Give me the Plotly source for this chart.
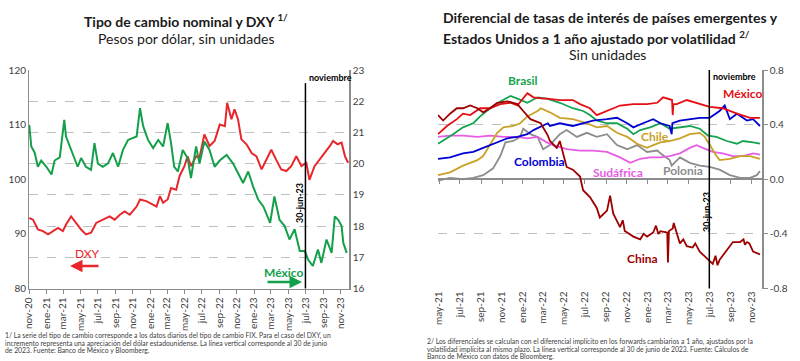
import plotly.graph_objects as go

# ---------------- Left chart data ----------------
dxy_dates = ["2020-11-02","2020-11-15","2020-12-02","2020-12-20","2021-01-07","2021-01-24","2021-02-11","2021-02-28","2021-03-11","2021-03-29",
             "2021-04-16","2021-05-03","2021-05-20","2021-06-07","2021-06-25","2021-07-18","2021-08-11","2021-08-29","2021-09-16","2021-10-03",
             "2021-10-21","2021-11-14","2021-11-26","2021-12-18","2022-01-11","2022-01-23","2022-02-04","2022-02-15","2022-03-03","2022-03-15",
             "2022-04-02","2022-04-14","2022-05-01","2022-05-12","2022-05-24","2022-06-11","2022-06-23","2022-07-10","2022-07-28","2022-08-15",
             "2022-09-02","2022-09-20","2022-09-28","2022-10-13","2022-10-24","2022-11-05","2022-11-17","2022-12-05","2022-12-23","2023-01-09",
             "2023-01-27","2023-02-14","2023-03-02","2023-03-19","2023-04-06","2023-04-24","2023-05-11","2023-05-29","2023-06-16","2023-07-03",
             "2023-07-14","2023-08-01","2023-08-19","2023-09-06","2023-09-24","2023-10-05","2023-10-21","2023-11-04","2023-11-16","2023-11-27"]
dxy_vals = [92.9,92.6,90.8,90.5,89.9,90.5,91.1,90.5,91.7,93.2,
            92.0,90.8,89.9,90.2,92.0,92.6,93.2,92.6,93.5,94.1,
            93.5,95.0,96.3,96.0,95.4,95.0,96.9,95.7,96.3,98.4,
            98.1,100.6,102.4,104.2,102.4,104.2,104.0,108.2,106.1,107.0,
            110.0,109.7,114.0,111.0,112.8,111.0,107.3,106.4,104.8,104.2,
            101.8,103.6,105.4,103.6,101.8,101.5,102.4,104.2,102.4,103.0,
            99.9,102.4,103.6,104.8,106.1,107.0,106.4,106.7,104.2,103.0]

mxn_dates = ["2020-11-02","2020-11-09","2020-11-21","2020-12-02","2020-12-14","2021-01-01","2021-01-19","2021-01-30","2021-02-17","2021-03-05",
             "2021-03-11","2021-03-23","2021-04-04","2021-04-21","2021-05-03","2021-05-20","2021-06-07","2021-06-19","2021-07-01","2021-07-18",
             "2021-08-05","2021-08-23","2021-09-10","2021-09-27","2021-10-15","2021-11-02","2021-11-14","2021-11-26","2021-12-07","2021-12-24",
             "2022-01-11","2022-01-29","2022-02-15","2022-03-03","2022-03-15","2022-03-26","2022-04-08","2022-04-25","2022-05-12","2022-05-24",
             "2022-06-11","2022-06-23","2022-07-10","2022-07-28","2022-08-15","2022-09-02","2022-09-26","2022-10-19","2022-11-06","2022-11-23",
             "2022-12-11","2022-12-28","2023-01-15","2023-02-02","2023-02-26","2023-03-13","2023-03-31","2023-04-18","2023-05-05","2023-05-23",
             "2023-06-10","2023-06-28","2023-07-09","2023-07-26","2023-08-13","2023-08-25","2023-09-12","2023-09-30","2023-10-11","2023-10-23",
             "2023-11-04","2023-11-10","2023-11-22"]
mxn_vals = [21.24,20.55,20.35,19.9,20.1,19.9,19.65,20.1,20.2,21.4,
            20.87,20.6,20.34,19.9,20.18,19.9,19.8,20.66,20.0,19.9,
            20.0,20.34,19.9,20.44,20.76,20.82,20.87,21.78,21.2,20.76,
            20.5,20.76,20.55,21.3,20.66,19.9,19.75,20.44,20.18,19.54,
            20.55,20.0,20.71,20.44,19.9,20.1,20.28,20.0,19.7,19.38,
            19.75,19.27,18.85,18.63,18.1,18.95,18.2,18.0,17.57,17.9,
            17.2,17.2,16.93,16.72,17.25,16.82,17.57,17.14,18.31,18.2,
            18.0,17.46,17.14]

left_tick_dates = ["2020-11-01","2021-01-01","2021-03-01","2021-05-01","2021-07-01","2021-09-01","2021-11-01",
                   "2022-01-01","2022-03-01","2022-05-01","2022-07-01","2022-09-01","2022-11-01",
                   "2023-01-01","2023-03-01","2023-05-01","2023-07-01","2023-09-01","2023-11-01"]
left_tick_labels = ["nov-20","ene-21","mar-21","may-21","jul-21","sep-21","nov-21",
                    "ene-22","mar-22","may-22","jul-22","sep-22","nov-22",
                    "ene-23","mar-23","may-23","jul-23","sep-23","nov-23"]

# ---------------- Right chart data ----------------
mx_dates = ["2021-04-28","2021-05-24","2021-06-22","2021-07-10","2021-07-31","2021-08-29","2021-09-27","2021-10-27","2021-11-26","2021-12-16",
            "2022-01-14","2022-02-01","2022-03-01","2022-03-12","2022-04-19","2022-05-27","2022-06-17","2022-07-16","2022-08-05","2022-09-04",
            "2022-10-12","2022-11-20","2022-12-30","2023-01-29","2023-02-15","2023-03-13","2023-03-15","2023-03-17","2023-03-27","2023-04-25",
            "2023-05-24","2023-07-01","2023-08-08","2023-09-19","2023-10-27","2023-11-25"]
mx_vals = [0.33,0.39,0.44,0.48,0.47,0.52,0.52,0.55,0.56,0.54,
           0.63,0.60,0.59,0.59,0.58,0.58,0.55,0.52,0.47,0.50,
           0.54,0.55,0.55,0.56,0.60,0.58,0.47,0.55,0.55,0.58,
           0.56,0.53,0.52,0.48,0.45,0.45]

br_dates = ["2021-04-28","2021-05-24","2021-06-11","2021-07-10","2021-08-09","2021-08-29","2021-09-27","2021-10-27","2021-11-26","2021-12-16",
            "2022-01-14","2022-02-13","2022-03-12","2022-04-19","2022-05-27","2022-06-26","2022-07-16","2022-08-05","2022-09-04","2022-10-03",
            "2022-11-02","2022-11-20","2022-12-10","2023-01-08","2023-02-07","2023-03-06","2023-04-05","2023-05-04","2023-06-02","2023-06-26",
            "2023-07-21","2023-08-20","2023-09-19","2023-10-06","2023-11-05","2023-11-25"]
br_vals = [0.26,0.30,0.33,0.38,0.41,0.46,0.52,0.57,0.61,0.59,
           0.56,0.60,0.59,0.56,0.52,0.50,0.47,0.43,0.41,0.41,
           0.37,0.33,0.36,0.38,0.41,0.37,0.38,0.39,0.37,0.32,
           0.31,0.28,0.26,0.28,0.27,0.26]

cl_dates = ["2021-04-28","2021-06-02","2021-07-10","2021-08-21","2021-09-07","2021-09-27","2021-10-18","2021-11-05","2021-12-04","2021-12-24",
            "2022-01-14","2022-02-13","2022-02-22","2022-03-21","2022-04-19","2022-05-27","2022-07-07","2022-08-05","2022-09-04","2022-10-03",
            "2022-11-02","2022-12-01","2022-12-30","2023-01-17","2023-02-07","2023-03-06","2023-04-05","2023-05-04","2023-06-02","2023-06-17",
            "2023-07-01","2023-07-21","2023-07-30","2023-08-29","2023-09-28","2023-10-27","2023-11-25"]
cl_vals = [0.03,0.05,0.10,0.14,0.17,0.25,0.34,0.38,0.39,0.41,
           0.46,0.50,0.52,0.49,0.45,0.44,0.41,0.38,0.39,0.34,
           0.31,0.26,0.23,0.25,0.27,0.28,0.30,0.33,0.34,0.31,
           0.25,0.17,0.14,0.15,0.17,0.17,0.15]

co_dates = ["2021-04-28","2021-06-02","2021-07-10","2021-08-09","2021-09-07","2021-10-18","2021-11-17","2021-12-16","2022-01-14","2022-02-01",
            "2022-03-01","2022-03-15","2022-03-21","2022-04-19","2022-05-27","2022-06-26","2022-07-25","2022-09-04","2022-10-03","2022-11-02",
            "2022-11-20","2022-12-18","2023-01-17","2023-02-07","2023-03-06","2023-03-12","2023-03-14","2023-04-05","2023-05-04","2023-06-02",
            "2023-07-01","2023-07-30","2023-08-14","2023-08-29","2023-09-19","2023-10-18","2023-11-05","2023-11-25"]
co_vals = [0.15,0.16,0.19,0.20,0.23,0.27,0.30,0.31,0.33,0.36,
           0.39,0.41,0.39,0.41,0.39,0.41,0.43,0.44,0.45,0.41,
           0.38,0.41,0.44,0.41,0.39,0.33,0.41,0.43,0.44,0.45,
           0.45,0.50,0.54,0.44,0.48,0.43,0.44,0.39]

za_dates = ["2021-04-28","2021-06-02","2021-07-10","2021-08-21","2021-09-27","2021-11-05","2021-12-16","2022-01-14","2022-02-13","2022-03-12",
            "2022-03-30","2022-05-09","2022-06-17","2022-07-25","2022-09-04","2022-10-12","2022-11-11","2022-12-10","2023-01-08","2023-02-07",
            "2023-03-06","2023-04-05","2023-05-04","2023-05-24","2023-06-11","2023-07-10","2023-08-08","2023-09-07","2023-10-06","2023-11-05",
            "2023-11-25"]
za_vals = [0.31,0.32,0.32,0.31,0.32,0.31,0.31,0.30,0.31,0.27,
           0.25,0.22,0.21,0.21,0.20,0.16,0.12,0.15,0.16,0.16,
           0.17,0.19,0.23,0.25,0.23,0.20,0.19,0.17,0.17,0.19,
           0.18]

pl_dates = ["2021-04-28","2021-06-02","2021-07-10","2021-08-09","2021-09-07","2021-10-06","2021-10-27","2021-11-11","2021-12-04","2021-12-24",
            "2022-01-02","2022-01-23","2022-02-13","2022-03-01","2022-03-21","2022-04-19","2022-05-09","2022-06-08","2022-07-07","2022-08-05",
            "2022-09-04","2022-10-03","2022-11-02","2022-12-01","2022-12-30","2023-01-29","2023-02-07","2023-03-06","2023-03-12","2023-04-05",
            "2023-05-04","2023-06-02","2023-07-01","2023-07-30","2023-08-29","2023-09-28","2023-10-27","2023-11-16","2023-11-25"]
pl_vals = [-0.01,0.01,0.0,0.01,0.03,0.08,0.17,0.27,0.28,0.31,
           0.37,0.33,0.31,0.22,0.25,0.33,0.36,0.31,0.34,0.31,
           0.33,0.25,0.22,0.25,0.20,0.21,0.19,0.14,0.10,0.16,
           0.12,0.10,0.09,0.07,0.03,0.01,0.01,0.03,0.06]

cn_dates = ["2021-04-28","2021-05-13","2021-06-02","2021-06-22","2021-07-10","2021-07-31","2021-08-21","2021-09-07","2021-09-27","2021-10-18",
            "2021-11-17","2021-12-16","2022-01-02","2022-01-23","2022-02-22","2022-03-01","2022-03-15","2022-03-21","2022-04-10","2022-04-19",
            "2022-04-28","2022-05-09","2022-05-27","2022-06-17","2022-06-26","2022-07-16","2022-08-05","2022-08-14","2022-09-04","2022-09-13",
            "2022-09-22","2022-10-12","2022-10-20","2022-10-26","2022-11-02","2022-11-20","2022-12-10","2022-12-20","2022-12-30","2023-01-17",
            "2023-01-25","2023-02-01","2023-02-07","2023-02-27","2023-03-01","2023-03-04","2023-03-15","2023-03-18","2023-04-05","2023-04-15",
            "2023-04-25","2023-05-12","2023-05-20","2023-06-02","2023-06-23","2023-07-10","2023-07-18","2023-07-24","2023-07-30","2023-08-20",
            "2023-08-28","2023-09-07","2023-09-28","2023-10-08","2023-10-12","2023-10-18","2023-10-25","2023-11-01","2023-11-05","2023-11-25"]
cn_vals = [0.47,0.43,0.48,0.52,0.52,0.54,0.52,0.49,0.52,0.56,
           0.57,0.55,0.50,0.44,0.41,0.38,0.32,0.28,0.23,0.28,
           0.19,0.09,0.07,0.02,-0.08,-0.13,-0.21,-0.28,-0.23,-0.12,
           -0.25,-0.35,-0.30,-0.38,-0.39,-0.42,-0.44,-0.40,-0.42,-0.39,
           -0.34,-0.40,-0.38,-0.39,-0.61,-0.38,-0.36,-0.32,-0.47,-0.44,
           -0.49,-0.50,-0.47,-0.53,-0.58,-0.62,-0.56,-0.63,-0.59,-0.52,
           -0.49,-0.46,-0.46,-0.44,-0.48,-0.46,-0.47,-0.51,-0.53,-0.55]

right_tick_dates = ["2021-05-01","2021-07-01","2021-09-01","2021-11-01","2022-01-01","2022-03-01","2022-05-01","2022-07-01",
                    "2022-09-01","2022-11-01","2023-01-01","2023-03-01","2023-05-01","2023-07-01","2023-09-01","2023-11-01"]
right_tick_labels = ["may-21","jul-21","sep-21","nov-21","ene-22","mar-22","may-22","jul-22",
                     "sep-22","nov-22","ene-23","mar-23","may-23","jul-23","sep-23","nov-23"]
right_y_ticks = [-0.8, -0.4, 0.0, 0.4, 0.8]
right_y_labels = ["-0.8", "-0.4", "0.0", "0.4", "0.8"]

ref_date = "2023-06-30"

# ---------------- Styling ----------------
FONT = "Lato"
TICKC = "#404040"
AXC = "#8C8C8C"
GRIDC = "#BFBFBF"

L_DOM_X = [29 / 800, 349 / 800]
R_DOM_X = [437.7 / 800, 762 / 800]
DOM_Y = [1 - 288.5 / 361, 1 - 70 / 361]

fig = go.Figure()

fig.add_trace(go.Scatter(x=dxy_dates, y=dxy_vals, mode="lines", xaxis="x", yaxis="y",
                         line=dict(color="#E8262C", width=2), showlegend=False, hoverinfo="skip"))
fig.add_trace(go.Scatter(x=mxn_dates, y=mxn_vals, mode="lines", xaxis="x", yaxis="y2",
                         line=dict(color="#14A04A", width=2), showlegend=False, hoverinfo="skip"))

right_series = [
    (pl_dates, pl_vals, "#8C8C8C", "x2"),
    (za_dates, za_vals, "#E65CE6", "x2"),
    (cl_dates, cl_vals, "#C9A227", "x2"),
    (br_dates, br_vals, "#16A350", "x2"),
    (co_dates, co_vals, "#0000D2", "x2"),
    (mx_dates, mx_vals, "#E60E14", "x2"),
    (cn_dates, cn_vals, "#9E0000", "x3"),
]
for d, v, c, xa in right_series:
    fig.add_trace(go.Scatter(x=d, y=v, mode="lines", xaxis=xa, yaxis="y3",
                             line=dict(color=c, width=1.8), showlegend=False, hoverinfo="skip"))

tickfont = dict(family=FONT, size=10, color=TICKC)

fig.update_layout(
    template="none",
    width=800, height=361,
    margin=dict(l=0, r=0, t=0, b=0, pad=0),
    paper_bgcolor="white", plot_bgcolor="white",
    font=dict(family=FONT, color=TICKC),
    xaxis=dict(domain=L_DOM_X, anchor="y", type="date", range=["2020-11-01", "2023-11-30"],
               tickvals=left_tick_dates, ticktext=left_tick_labels, tickangle=-90, automargin=False,
               tickfont=tickfont, showgrid=False, showline=True, linecolor=AXC, linewidth=1,
               ticks="outside", ticklen=4, tickcolor=AXC, zeroline=False),
    yaxis=dict(domain=DOM_Y, anchor="x", range=[80, 120], tickvals=[80, 90, 100, 110, 120], automargin=False,
               tickfont=tickfont, showgrid=False, showline=True, linecolor=AXC, linewidth=1,
               ticks="", zeroline=False),
    yaxis2=dict(overlaying="y", side="right", anchor="x", range=[16, 23], automargin=False,
                tickvals=[16, 17, 18, 19, 20, 21, 22, 23], tickfont=tickfont,
                showgrid=True, gridcolor=GRIDC, griddash="dash", gridwidth=1,
                showline=True, linecolor=AXC, linewidth=1.5, ticks="", zeroline=False),
    xaxis2=dict(domain=R_DOM_X, anchor="y3", type="date", range=["2021-04-27", "2023-12-01"], automargin=False,
                tickvals=right_tick_dates, ticktext=right_tick_labels, tickangle=-90,
                tickfont=tickfont, showgrid=False, showline=False, ticks="", zeroline=False),
    xaxis3=dict(overlaying="x2", anchor="free", position=(DOM_Y[0] + DOM_Y[1]) / 2, automargin=False,
                type="date", range=["2021-04-27", "2023-12-01"], tickvals=right_tick_dates,
                showticklabels=False, showgrid=False, showline=False,
                ticks="outside", ticklen=4, tickcolor=AXC, zeroline=False),
    yaxis3=dict(domain=DOM_Y, anchor="x2", side="right", range=[-0.8, 0.8], automargin=False,
                tickvals=right_y_ticks, ticktext=right_y_labels, tickfont=tickfont,
                showgrid=True, gridcolor=GRIDC, griddash="dash", gridwidth=1,
                zeroline=True, zerolinecolor=AXC, zerolinewidth=1.5,
                showline=True, linecolor=AXC, linewidth=1.5, ticks="outside", ticklen=4, tickcolor=AXC),
)

# vertical reference lines
fig.add_shape(type="line", xref="x", yref="y domain", x0=ref_date, x1=ref_date, y0=0, y1=0.94,
              line=dict(color="black", width=1.5))
fig.add_shape(type="line", xref="x2", yref="y3 domain", x0=ref_date, x1=ref_date, y0=0, y1=1,
              line=dict(color="black", width=1.5))

def P(px, py):
    return px / 800, 1 - py / 361

def txt(px, py, text, size, color="#1a1a1a", bold=False, xanchor="center", angle=0):
    x, y = P(px, py)
    t = f"<b>{text}</b>" if bold else text
    fig.add_annotation(x=x, y=y, xref="paper", yref="paper", text=t, showarrow=False,
                       xanchor=xanchor, yanchor="middle", textangle=angle,
                       font=dict(family=FONT, size=size, color=color))

# titles
txt(186, 20, "Tipo de cambio nominal y DXY <sup>1/</sup>", 14, "#1a1a1a", bold=True)
txt(186, 39, "Pesos por dólar, sin unidades", 14, "#1a1a1a")
txt(610, 18, "Diferencial de tasas de interés de países emergentes y", 14, "#1a1a1a", bold=True)
txt(596, 37, "Estados Unidos a 1 año ajustado por volatilidad <sup>2/</sup>", 14, "#1a1a1a", bold=True)
txt(607, 54, "Sin unidades", 14, "#1a1a1a")

# left chart labels
txt(307, 78, "noviembre", 9, "black", bold=True, xanchor="left")
txt(300, 203, "30-jun-23", 9, "black", bold=True, angle=-90)
txt(87, 253, "DXY", 12, "#E8262C")
txt(283, 272, "México", 12, "#14A04A", bold=True)
hx, hy = P(70, 266)
fig.add_annotation(x=hx, y=hy, xref="paper", yref="paper", ax=30, ay=0, text="", showarrow=True,
                   arrowhead=2, arrowsize=1, arrowwidth=2.5, arrowcolor="#E8262C")
hx, hy = P(302, 282)
fig.add_annotation(x=hx, y=hy, xref="paper", yref="paper", ax=-36, ay=0, text="", showarrow=True,
                   arrowhead=2, arrowsize=1, arrowwidth=2.5, arrowcolor="#14A04A")

# right chart labels
txt(711, 76, "noviembre", 9, "black", bold=True, xanchor="left")
txt(706, 212, "30-jun-23", 9, "black", bold=True, angle=-90)
txt(523, 81, "Brasil", 12, "#16A350", bold=True)
txt(539, 161, "Colombia", 12, "#0000D2", bold=True)
txt(655, 137, "Chile", 12, "#C9A227", bold=True)
txt(618, 172, "Sudáfrica", 12, "#E65CE6", bold=True)
txt(683, 171, "Polonia", 12, "#8C8C8C", bold=True)
txt(742, 94, "México", 12, "#E60E14", bold=True)
txt(642, 258, "China", 12, "#9E0000", bold=True)

# footnotes
foot_left = [
    "1/ La serie del tipo de cambio corresponde a los datos diarios del tipo de cambio FIX. Para el caso del DXY, un",
    "incremento representa una apreciación del dólar estadounidense. La línea vertical corresponde al 30 de junio",
    "de 2023. Fuente: Banco de México y Bloomberg.",
]
foot_right = [
    "2/ Los diferenciales se calculan con el diferencial implícito en los forwards cambiarios a 1 año, ajustados por la",
    "volatilidad implícita al mismo plazo. La línea vertical corresponde al 30 de junio de 2023. Fuente: Cálculos de",
    "Banco de México con datos de Bloomberg.",
]
for i, line in enumerate(foot_left):
    txt(3, 335 + 7.5 * i, line, 6.8, "#404040", xanchor="left")
for i, line in enumerate(foot_right):
    txt(425, 341 + 7.5 * i, line, 6.8, "#404040", xanchor="left")

fig.write_html("out.html", config={"displayModeBar": False},
               post_script="document.body.style.margin='0px';document.body.style.padding='0px';")
